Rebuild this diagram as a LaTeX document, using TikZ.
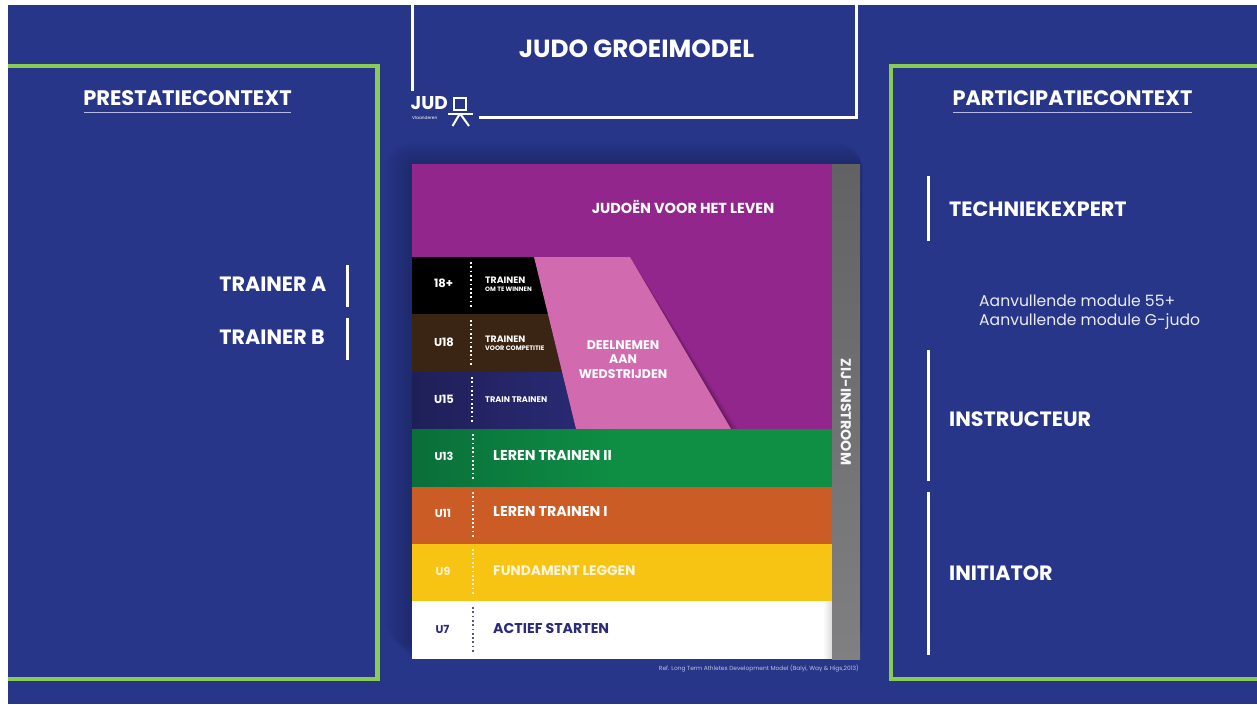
\documentclass[tikz,border=0pt]{standalone}
\usepackage{fontspec}
\setmainfont{Poppins}
\usetikzlibrary{fadings,positioning}
\definecolor{navy}{HTML}{28368A}
\definecolor{frameg}{HTML}{8ACB55}
\definecolor{purp}{HTML}{92268C}
\definecolor{pinkb}{HTML}{D26AB0}
\definecolor{greyb}{HTML}{808083}
\definecolor{greyt}{HTML}{626265}
\definecolor{greenb}{HTML}{0E8F44}
\definecolor{greend}{HTML}{0A6E3A}
\definecolor{orangeb}{HTML}{CB5C26}
\definecolor{yellowb}{HTML}{F7C413}
\definecolor{brownb}{HTML}{3A2413}
\definecolor{indigob}{HTML}{2A2A75}
\definecolor{indigod}{HTML}{1F1F58}
\definecolor{ink}{HTML}{2B2A7C}
\definecolor{ulin}{HTML}{B5BBE4}
\tikzset{
  x=1pt,y=-1pt,
  lbl/.style={inner sep=0pt,text=white,font=\fontsize{#1}{#1}\selectfont\bfseries},
  lbl/.default=20,
  plain/.style={inner sep=0pt,text=white,font=\fontsize{#1}{#1}\selectfont},
  frameline/.style={draw=frameg,line width=4.6pt,line cap=butt,miter limit=10},
  whiteline/.style={draw=white,line width=3pt},
  logoline/.style={draw=white,line width=2pt},
  dots/.style={draw=#1,line width=1.7pt,dash pattern=on 1.7pt off 2.6pt},
  dots/.default=white,
  band/.style={draw=none}
}
\begin{document}
\begin{tikzpicture}
\useasboundingbox (0,0) rectangle (1257,704);
% page and background
\fill[white] (0,0) rectangle (1257,704);
\fill[navy] (8,5) rectangle (1257,704);
% soft halo around the chart
\foreach \d in {28,25,...,1}
  \fill[black,opacity=.02,rounded corners=\d] (412-\d,164-\d*.8) rectangle (860+\d*.1,659-\d*.5);
% frames
\draw[frameline] (8,66) -- (377.5,66) -- (377.5,679) -- (8,679);
\draw[frameline] (1257,66) -- (891,66) -- (891,679) -- (1257,679);
% title frame
\draw[whiteline] (412,5) -- (412,91);
\draw[whiteline] (479,117) -- (856,117) -- (856,5);
\node[lbl=24.8] (title) at (636.5,48.5) {JUDO GROEIMODEL};
% logo
\node[plain=16,anchor=west,font=\fontsize{18.5}{18.5}\selectfont\bfseries] (logoword) at (410.5,103.5) {JUD};
\node[plain=4.3,anchor=west] (logosub) at (412,117.5) {Vlaanderen};
\draw[logoline] (454,98) rectangle (466,110);
\draw[logoline] (447.5,113.5) -- (473,113.5);
\draw[logoline] (460,113.5) -- (452.5,126);
\draw[logoline] (460,113.5) -- (469,126);
% left panel
\node[lbl=21] (prest) at (187.5,98) {PRESTATIECONTEXT};
\draw[ulin,line width=1.6pt] (84,112.5) -- (291,112.5);
\node[lbl=20.7,anchor=east] (ta) at (326.5,284) {TRAINER A};
\node[lbl=20.7,anchor=east] (tb) at (325,337.5) {TRAINER B};
\draw[whiteline] (347,265) -- (347,307);
\draw[whiteline] (347,318) -- (347,360);
% right panel
\node[lbl=20.9] (part) at (1072.5,98) {PARTICIPATIECONTEXT};
\draw[ulin,line width=1.6pt] (953,112.5) -- (1192,112.5);
\draw[whiteline] (928,176) -- (928,241);
\draw[whiteline] (928,350) -- (928,481);
\draw[whiteline] (928,492) -- (928,655);
\node[lbl=20.7,anchor=west] (tech) at (949,209.5) {TECHNIEKEXPERT};
\node[lbl=20.7,anchor=west] (instr) at (949,419) {INSTRUCTEUR};
\node[lbl=20.7,anchor=west] (init) at (949,573) {INITIATOR};
\node[plain=15.6,text=white!90!navy,anchor=base west] (m1) at (979,306) {Aanvullende module 55+};
\node[plain=15.6,text=white!90!navy,anchor=base west] (m2) at (979,325.5) {Aanvullende module G-judo};
% chart bands
\fill[band,purp] (412,164) rectangle (832,429);
\fill[black] (412,257) rectangle (555,314);
\fill[brownb] (412,314) rectangle (570,372);
\shade[left color=indigod,right color=indigob] (412,372) rectangle (585,429);
% shadow to the right of the trapezoid
\foreach \d/\o in {7/.05,5/.07,3/.09,1.5/.1}
  \fill[black,opacity=\o] (630,257) -- (731+\d,429) -- (576,429) -- (534,257) -- cycle;
\fill[pinkb] (534,257) -- (630,257) -- (731,429) -- (576,429) -- cycle;
\shade[left color=greend,right color=greenb,middle color=greenb] (412,429) rectangle (832,486.5);
\fill[orangeb] (412,486.5) rectangle (832,544);
\fill[yellowb] (412,544) rectangle (832,601);
\fill[white] (412,601) rectangle (832,659);
\shade[top color=greyt,bottom color=greyb] (832,164) rectangle (860,659);
\foreach \d in {1,2,...,8}
  \fill[black,opacity=.014] (832-\d,601) rectangle (832,659);
% chart texts
\node[lbl=14.5] (jvl) at (683,207) {JUDOËN VOOR HET LEVEN};
\node[lbl=12.5,align=center] (deel) at (623,359.5) {DEELNEMEN\\[1.7pt]AAN\\[1.7pt]WEDSTRIJDEN};
\node[lbl=11.5] (a18) at (443.5,283) {18+};
\node[lbl=11.5] (a15) at (444,399) {U15};
\node[lbl=11.5] (a16) at (444,342) {U18};
\node[lbl=9.3,anchor=west] (t1) at (485,280.5) {TRAINEN};
\node[lbl=6.3,anchor=west] (t1s) at (485,289.5) {OM TE WINNEN};
\node[lbl=9.3,anchor=west] (t2) at (485,339) {TRAINEN};
\node[lbl=6.5,anchor=west] (t2s) at (485,348.5) {VOOR COMPETITIE};
\node[lbl=8.2,anchor=west] (t3) at (485,399.5) {TRAIN TRAINEN};
\node[lbl=11.2] (a13) at (444,456) {U13};
\node[lbl=11.2] (a11) at (443,513) {U11};
\node[lbl=11.2,text=white!80!yellowb] (a9) at (443,571.5) {U9};
\node[lbl=11.2,text=ink] (a7) at (442.5,629) {U7};
\node[lbl=14.3,anchor=west] (b13) at (493,455) {LEREN TRAINEN II};
\node[lbl=14.3,anchor=west] (b11) at (493,511.5) {LEREN TRAINEN I};
\node[lbl=13.8,anchor=west,text=white!85!yellowb] (b9) at (493,570.5) {FUNDAMENT LEGGEN};
\node[lbl=14.2,anchor=west,text=ink] (b7) at (493,628.5) {ACTIEF STARTEN};
\node[lbl=14.3,rotate=-90,text=white!92!greyb] (zij) at (846,412) {ZIJ-INSTROOM};
% dotted separators
\draw[dots] (471,262) -- (471,309);
\draw[dots] (471,320) -- (471,367);
\draw[dots] (472,377) -- (472,424);
\draw[dots] (473,434) -- (473,481);
\draw[dots] (473,492) -- (473,538);
\draw[dots=white!80!yellowb] (473,549) -- (473,596);
\draw[dots=ink!80!white] (473,607) -- (473,654);
% reference
\node[plain=5.9,text=white!70!navy,anchor=east] (ref) at (859,669) {Ref. Long Term Athletes Development Model (Balyi, Way \& Higs,2013)};
\end{tikzpicture}
\end{document}
